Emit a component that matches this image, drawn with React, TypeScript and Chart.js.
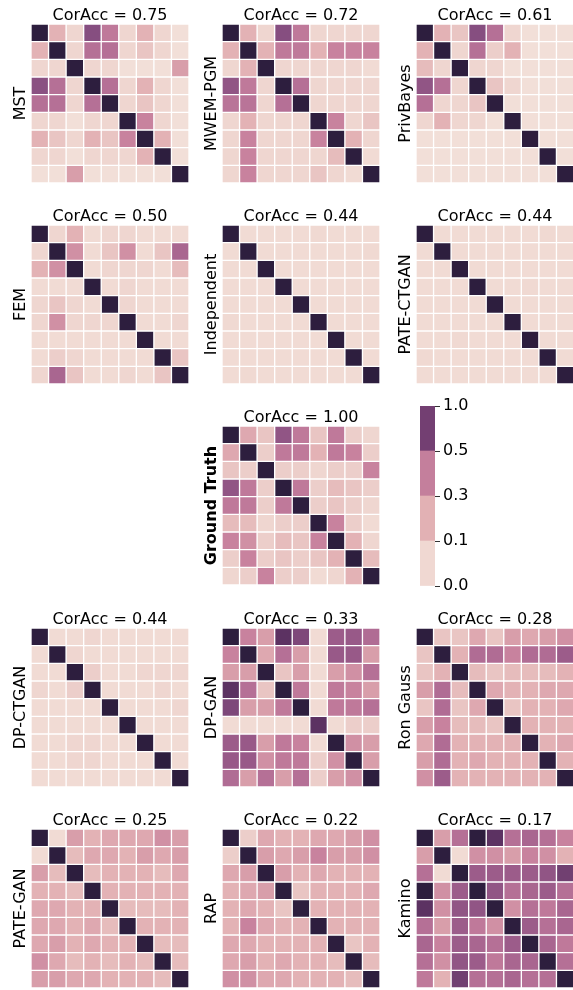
import React, { useEffect, useRef } from 'react';
import { Chart, registerables } from 'chart.js';

Chart.register(...registerables);

const FONT = "'DejaVu Sans', sans-serif";

// ---------- data ----------
const cellLabels = ['0', '1', '2', '3', '4', '5', '6', '7', '8'];

const mstValues = [
  [1, .3, .1, .8, .55, .1, .3, .1, 0],
  [.3, 1, .1, .6, .6, .1, .2, .1, 0],
  [.1, .1, 1, .1, .1, 0, 0, 0, .4],
  [.78, .6, .1, 1, .6, .1, .3, .1, 0],
  [.6, .6, .1, .6, 1, .1, .2, .1, 0],
  [.1, .1, 0, .1, .1, 1, .5, .1, 0],
  [.3, .2, .1, .3, .2, .5, 1, .3, 0],
  [.1, .1, 0, .1, .1, .1, .3, 1, 0],
  [0, 0, .4, 0, 0, 0, 0, 0, 1],
];

const mwemValues = [
  [1, .3, .1, .8, .55, .1, .1, .1, .1],
  [.3, 1, .3, .55, .55, .3, .5, .5, .5],
  [.1, .3, 1, .1, .1, .1, .1, .1, .05],
  [.75, .55, .1, 1, .6, .1, .1, .1, .1],
  [.58, .58, .1, .6, 1, .1, .1, .1, .1],
  [.1, .3, .1, .1, .1, 1, .5, .1, .2],
  [.1, .5, .1, .1, .1, .5, 1, .3, .1],
  [.1, .5, .1, .1, .1, .1, .25, 1, .05],
  [.1, .5, .1, .1, .1, .2, .1, .05, 1],
];

const privBayesValues = [
  [1, .3, .2, .8, .6, .1, 0, 0, 0],
  [.3, 1, .1, .6, .15, .3, 0, 0, 0],
  [.25, .1, 1, .1, .1, 0, 0, 0, 0],
  [.75, .6, .1, 1, .2, .1, 0, 0, 0],
  [.6, .1, .1, .2, 1, 0, 0, 0, 0],
  [.1, .3, .1, .1, 0, 1, 0, 0, 0],
  [0, 0, 0, 0, 0, 0, 1, 0, 0],
  [0, 0, 0, 0, 0, 0, 0, 1, 0],
  [0, 0, 0, 0, 0, 0, 0, 0, 1],
];

const femValues = [
  [1, .1, .3, .05, .1, .1, .05, .05, .05],
  [.1, 1, .45, .05, .2, .45, .05, .2, .65],
  [.3, .45, 1, .05, .1, .1, .1, .05, .25],
  [.05, .05, .05, 1, .05, .1, .05, .05, .05],
  [.1, .2, .1, .05, 1, .1, .05, .05, .05],
  [.1, .45, .1, .1, .1, 1, .05, .05, .1],
  [.05, .05, .05, .05, .05, .05, 1, .05, .05],
  [.05, .15, .1, .05, .05, .05, .05, 1, .2],
  [.1, .65, .2, .05, .05, .1, .05, .2, 1],
];

const independentValues = [
  [1, .05, .05, .05, .05, .07, .05, .05, .05],
  [.05, 1, .05, .05, .05, .05, .05, .05, .07],
  [.05, .05, 1, .05, .05, .05, .05, .05, .05],
  [.05, .05, .05, 1, .05, .05, .05, .05, .05],
  [.05, .05, .05, .05, 1, .05, .05, .05, .05],
  [.07, .05, .05, .05, .05, 1, .05, .05, .05],
  [.05, .05, .05, .05, .05, .05, 1, .05, .05],
  [.05, .05, .05, .05, .05, .05, .05, 1, .05],
  [.05, .07, .05, .05, .05, .05, .05, .05, 1],
];

const pateCtganValues = [
  [1, .05, .05, .05, .05, .05, .05, .07, .05],
  [.05, 1, .05, .05, .05, .05, .05, .05, .05],
  [.05, .05, 1, .05, .05, .05, .05, .05, .05],
  [.05, .05, .05, 1, .05, .05, .07, .05, .05],
  [.05, .05, .05, .05, 1, .05, .05, .05, .05],
  [.05, .05, .05, .05, .05, 1, .05, .05, .05],
  [.05, .05, .07, .05, .05, .05, 1, .05, .05],
  [.07, .05, .05, .05, .05, .05, .05, 1, .05],
  [.05, .05, .05, .05, .05, .05, .05, .05, 1],
];

const groundTruthValues = [
  [1, .35, .2, .75, .55, .2, .55, .15, .1],
  [.35, 1, .15, .55, .55, .3, .55, .5, .15],
  [.2, .15, 1, .15, .15, .1, .15, .15, .5],
  [.75, .55, .15, 1, .55, .15, .25, .2, .15],
  [.55, .55, .15, .55, 1, .15, .2, .15, .1],
  [.25, .25, .1, .15, .15, 1, .5, .15, .05],
  [.5, .45, .15, .25, .2, .5, 1, .3, .1],
  [.15, .5, .15, .2, .15, .2, .3, 1, .25],
  [.1, .15, .5, .15, .15, .05, .1, .3, 1],
];

const dpCtganValues = [
  [1, .05, .05, .1, .05, .05, .05, .05, .05],
  [.05, 1, .1, .05, .05, .05, .05, .05, .05],
  [.05, .05, 1, .15, .05, .05, .1, .1, .1],
  [.1, .05, .15, 1, .05, .05, .05, .1, .05],
  [.05, .05, .05, .05, 1, .05, .05, .05, .1],
  [.05, .05, .05, .05, .05, 1, .05, .05, .05],
  [.05, .05, .1, .1, .05, .05, 1, .05, .05],
  [.05, .05, .1, .1, .05, .05, .05, 1, .05],
  [.05, .05, .05, .05, .05, .05, .05, .05, 1],
];

const dpGanValues = [
  [1, .5, .4, .9, .82, .05, .7, .72, .62],
  [.5, 1, .35, .6, .4, .05, .72, .72, .4],
  [.4, .4, 1, .2, .4, .05, .4, .45, .6],
  [.9, .6, .2, 1, .55, .05, .55, .5, .4],
  [.82, .4, .4, .55, 1, .05, .55, .55, .6],
  [.05, .05, .05, .05, .05, .9, .05, .15, .15],
  [.7, .72, .4, .55, .5, .05, 1, .45, .4],
  [.72, .72, .45, .55, .55, .15, .45, 1, .4],
  [.62, .4, .6, .4, .6, .15, .4, .45, 1],
];

const ronGaussValues = [
  [1, .2, .2, .35, .2, .4, .35, .4, .45],
  [.2, 1, .3, .62, .62, .5, .62, .62, .7],
  [.2, .3, 1, .25, .2, .25, .25, .25, .3],
  [.4, .62, .25, 1, .35, .3, .3, .35, .35],
  [.2, .62, .2, .35, 1, .2, .3, .3, .35],
  [.4, .5, .25, .25, .2, 1, .3, .3, .3],
  [.35, .62, .3, .3, .3, .3, 1, .3, .35],
  [.4, .62, .3, .35, .3, .3, .3, 1, .3],
  [.45, .7, .3, .3, .3, .3, .3, .3, 1],
];

const pateGanValues = [
  [1, .05, .4, .3, .35, .35, .35, .45, .4],
  [.05, 1, .25, .35, .35, .3, .4, .35, .4],
  [.4, .25, 1, .25, .3, .3, .3, .25, .35],
  [.3, .3, .25, 1, .3, .3, .3, .3, .3],
  [.35, .35, .3, .3, 1, .25, .25, .25, .3],
  [.35, .35, .3, .35, .25, 1, .3, .3, .3],
  [.35, .4, .3, .35, .3, .3, 1, .25, .25],
  [.45, .35, .25, .3, .25, .3, .25, 1, .25],
  [.4, .4, .35, .35, .3, .3, .3, .25, 1],
];

const rapValues = [
  [1, .15, .35, .3, .3, .35, .35, .4, .45],
  [.15, 1, .4, .35, .4, .5, .4, .4, .45],
  [.35, .4, 1, .4, .3, .35, .3, .3, .3],
  [.3, .35, .4, 1, .2, .3, .3, .3, .35],
  [.3, .35, .3, .2, 1, .3, .3, .3, .3],
  [.3, .5, .35, .3, .3, 1, .3, .3, .3],
  [.35, .35, .3, .3, .3, .3, 1, .2, .3],
  [.35, .4, .3, .35, .3, .3, .25, 1, .25],
  [.45, .45, .35, .35, .3, .3, .3, .25, 1],
];

const kaminoValues = [
  [1, .4, .6, 1, .9, .6, .65, .6, .5],
  [.4, 1, .05, .45, .45, .4, .5, .45, .3],
  [.6, .05, 1, .7, .7, .7, .7, .75, .85],
  [1, .45, .7, 1, .75, .6, .65, .7, .6],
  [.9, .45, .75, .75, 1, .45, .6, .55, .65],
  [.6, .4, .7, .55, .45, 1, .7, .6, .65],
  [.65, .5, .7, .65, .6, .7, 1, .65, .55],
  [.6, .45, .75, .7, .55, .65, .65, 1, .6],
  [.55, .3, .85, .6, .6, .65, .6, .6, 1],
];

const panelNames = [
  'MST', 'MWEM-PGM', 'PrivBayes',
  'FEM', 'Independent', 'PATE-CTGAN',
  'Ground Truth',
  'DP-CTGAN', 'DP-GAN', 'Ron Gauss',
  'PATE-GAN', 'RAP', 'Kamino',
];
const panelScores = [
  '0.75', '0.72', '0.61',
  '0.50', '0.44', '0.44',
  '1.00',
  '0.44', '0.33', '0.28',
  '0.25', '0.22', '0.17',
];
const panelValues = [
  mstValues, mwemValues, privBayesValues,
  femValues, independentValues, pateCtganValues,
  groundTruthValues,
  dpCtganValues, dpGanValues, ronGaussValues,
  pateGanValues, rapValues, kaminoValues,
];
const panelGrid: [number, number][] = [
  [0, 0], [0, 1], [0, 2],
  [1, 0], [1, 1], [1, 2],
  [2, 1],
  [3, 0], [3, 1], [3, 2],
  [4, 0], [4, 1], [4, 2],
];

const colorbarTickLabels = ['0.0', '0.1', '0.3', '0.5', '1.0'];
const colorbarBands = [1, 1, 1, 1];

// ---------- styles ----------
const COLOR_STOPS: [number, number, number][] = [
  [242, 223, 216],
  [239, 214, 208],
  [233, 197, 195],
  [227, 178, 181],
  [216, 158, 170],
  [200, 130, 158],
  [181, 112, 150],
  [156, 92, 138],
  [134, 78, 128],
  [92, 50, 98],
  [45, 30, 62],
];
const BAND_COLORS = ['#f0d8d2', '#e2b1b4', '#c47f9c', '#733f72'];

function levelColor(v: number): string {
  const t = Math.max(0, Math.min(1, v)) * 10;
  const i = Math.min(9, Math.floor(t));
  const f = t - i;
  const a = COLOR_STOPS[i];
  const b = COLOR_STOPS[i + 1];
  const c = a.map((x, k) => Math.round(x + (b[k] - x) * f));
  return `rgb(${c[0]},${c[1]},${c[2]})`;
}

const COL_LEFT = [31, 222, 416];
const ROW_TOP = [24, 225, 426, 628, 829];
const AXIS_W = 31;
const TITLE_H = 24;
const MAT_W = 158;
const MAT_H = 159;
const FONT_SIZE = 16;

function Heatmap(props: { name: string; score: string; values: number[][]; row: number; col: number }) {
  const { name, score, values, row, col } = props;
  const ref = useRef<HTMLCanvasElement>(null);
  const bold = name === 'Ground Truth';
  useEffect(() => {
    const chart = new Chart(ref.current!, {
      type: 'bar',
      data: {
        labels: cellLabels,
        datasets: values.map((r, ri) => ({
          label: `row ${ri}`,
          data: r.map(() => 1),
          backgroundColor: r.map(levelColor),
          borderColor: '#ffffff',
          borderWidth: 1,
          borderSkipped: false,
          barPercentage: 1,
          categoryPercentage: 1,
        })),
      },
      options: {
        responsive: false,
        animation: false,
        devicePixelRatio: 1,
        layout: { padding: 0 },
        plugins: {
          legend: { display: false },
          tooltip: { enabled: false },
          title: {
            display: true,
            fullSize: false,
            text: `CorAcc = ${score}`,
            color: '#000',
            font: { family: FONT, size: FONT_SIZE, lineHeight: 1, weight: 'normal' },
            padding: { top: 7.5, bottom: 0.5 },
          },
        },
        scales: {
          x: { display: false, stacked: true },
          y: {
            stacked: true,
            min: 0,
            max: 9,
            reverse: true,
            display: true,
            ticks: { display: false },
            grid: { display: false },
            border: { display: false },
            title: {
              display: true,
              text: name,
              color: '#000',
              font: { family: FONT, size: FONT_SIZE, lineHeight: 1, weight: bold ? 'bold' : 'normal' },
              padding: { top: 12.5, bottom: 0 },
            },
            afterFit: (s: any) => { s.width = AXIS_W; },
          },
        },
      } as any,
    });
    return () => chart.destroy();
  }, []);
  const w = AXIS_W + MAT_W;
  const h = TITLE_H + MAT_H;
  return (
    <canvas
      ref={ref}
      width={w}
      height={h}
      style={{ position: 'absolute', left: COL_LEFT[col] - AXIS_W, top: ROW_TOP[row] - TITLE_H, width: w, height: h }}
    />
  );
}

function Colorbar() {
  const ref = useRef<HTMLCanvasElement>(null);
  useEffect(() => {
    const chart = new Chart(ref.current!, {
      type: 'bar',
      data: {
        labels: ['cb'],
        datasets: colorbarBands.map((v, i) => ({
          label: colorbarTickLabels[i] + '-' + colorbarTickLabels[i + 1],
          data: [v],
          backgroundColor: BAND_COLORS[i],
          borderWidth: 0,
          barPercentage: 1,
          categoryPercentage: 1,
        })),
      },
      options: {
        responsive: false,
        animation: false,
        devicePixelRatio: 1,
        layout: { padding: { top: 10, bottom: 10, left: 0, right: 0 } },
        plugins: { legend: { display: false }, tooltip: { enabled: false } },
        scales: {
          x: { display: false, stacked: true },
          y: {
            position: 'right',
            stacked: true,
            min: 0,
            max: 4,
            ticks: {
              stepSize: 1,
              color: '#000',
              padding: 3,
              font: { family: FONT, size: FONT_SIZE, lineHeight: 1 },
              callback: (v: any) => colorbarTickLabels[Math.round(Number(v))],
            },
            grid: { display: true, drawOnChartArea: false, drawTicks: true, tickLength: 5, tickColor: '#333', tickWidth: 1 },
            border: { display: false },
            afterFit: (s: any) => { s.width = 45; s.paddingTop = 0; s.paddingBottom = 0; },
          },
        },
      } as any,
    });
    return () => chart.destroy();
  }, []);
  return (
    <canvas
      ref={ref}
      width={60}
      height={200}
      style={{ position: 'absolute', left: 420, top: 396, width: 60, height: 200 }}
    />
  );
}

export default function App() {
  return (
    <div style={{ position: 'absolute', left: 0, top: 0, width: 573, height: 990, overflow: 'hidden', background: '#fff' }}>
      {panelNames.map((name, i) => (
        <Heatmap
          key={name}
          name={name}
          score={panelScores[i]}
          values={panelValues[i]}
          row={panelGrid[i][0]}
          col={panelGrid[i][1]}
        />
      ))}
      <Colorbar />
    </div>
  );
}
